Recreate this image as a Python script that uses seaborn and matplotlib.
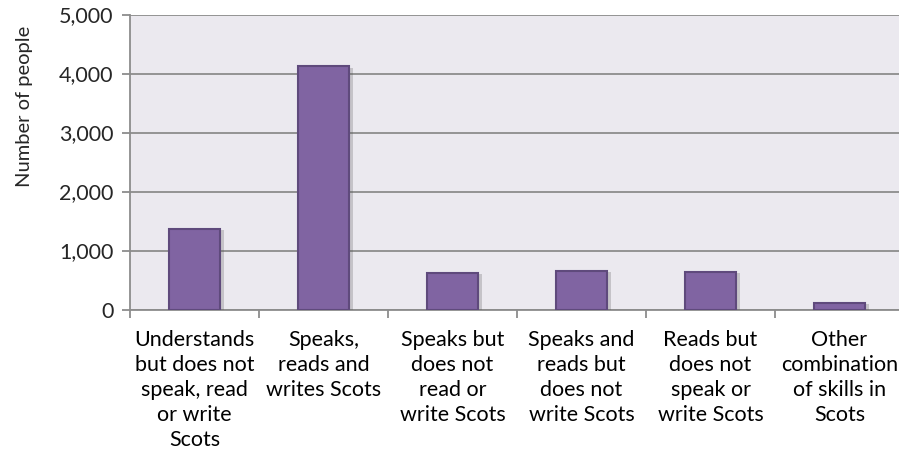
import matplotlib
matplotlib.use("Agg")
import matplotlib.pyplot as plt
import matplotlib.patheffects as pe
from matplotlib.ticker import FuncFormatter, FixedLocator
import numpy as np
import pandas as pd
import seaborn as sns

categories = [
    "Understands\nbut does not\nspeak, read\nor write\nScots",
    "Speaks,\nreads and\nwrites Scots",
    "Speaks but\ndoes not\nread or\nwrite Scots",
    "Speaks and\nreads but\ndoes not\nwrite Scots",
    "Reads but\ndoes not\nspeak or\nwrite Scots",
    "Other\ncombination\nof skills in\nScots",
]
people = [1370, 4120, 625, 658, 642, 110]

df = pd.DataFrame({"skill": categories, "people": people})

sns.set_theme(style="white")
plt.rcParams["font.family"] = ["Lato", "DejaVu Sans"]

fig = plt.figure(figsize=(8.99, 4.62), dpi=100)
ax = fig.add_axes([0.1446, 0.330, 0.861, 0.6385])
ax.set_facecolor("#EBE9EF")

sns.barplot(data=df, x="skill", y="people", color="#8064A2", width=0.4,
            saturation=1, edgecolor="#5F4A7C", linewidth=1.5, ax=ax, zorder=3)

shadow = [pe.SimplePatchShadow(offset=(3, -1), shadow_rgbFace="#555555", alpha=0.25),
          pe.Normal()]
for bar in ax.patches:
    bar.set_path_effects(shadow)

ax.set_ylim(0, 5000)
ax.set_xlim(-0.5, 5.5)
ax.set_yticks(np.arange(0, 5001, 1000))
ax.yaxis.set_major_formatter(FuncFormatter(lambda v, p: f"{int(v):,}"))
ax.yaxis.grid(True, color="#8C8C8C", linewidth=1.3, zorder=0)
ax.set_axisbelow(True)

ax.xaxis.set_minor_locator(FixedLocator(np.arange(-0.5, 6, 1)))
ax.tick_params(axis="x", which="major", length=0, pad=15, labelsize=15.5, colors="black")
ax.tick_params(axis="x", which="minor", length=6, width=1.3, color="#8C8C8C", bottom=True)
ax.tick_params(axis="y", length=6, width=1.3, color="#8C8C8C", labelsize=15.5, left=True, pad=6)
for lbl in ax.get_xticklabels():
    lbl.set_linespacing(1.3)

for side in ["top", "right"]:
    ax.spines[side].set_visible(False)
for side in ["left", "bottom"]:
    ax.spines[side].set_color("#8C8C8C")
    ax.spines[side].set_linewidth(1.3)

ax.set_xlabel("")
ax.set_ylabel("Number of people", fontsize=14.5)
ax.yaxis.set_label_coords(-0.125, 0.69)

fig.savefig("out.png", dpi=100)
